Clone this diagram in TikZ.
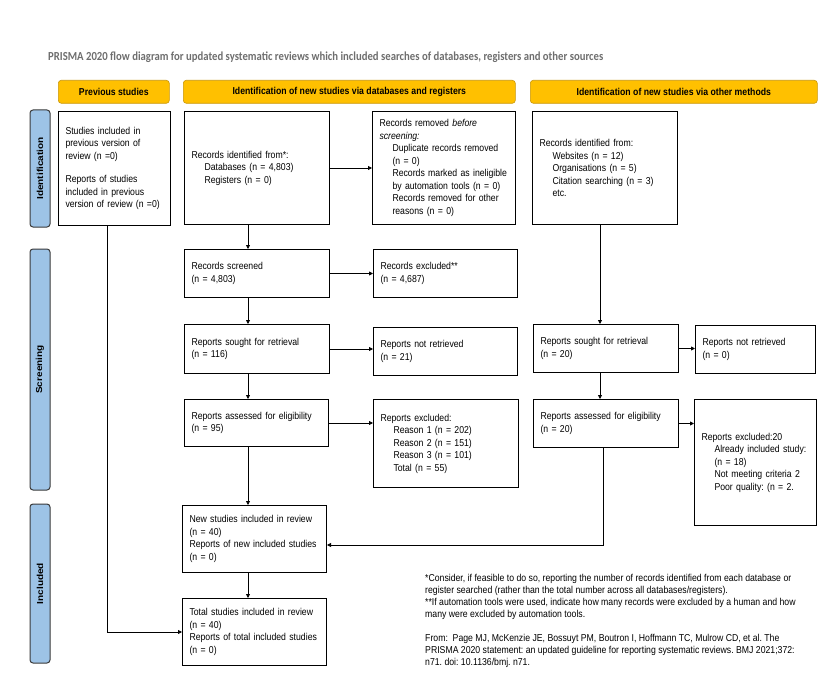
\documentclass[tikz,border=0pt]{standalone}
\usepackage{fontspec}
\setmainfont{Liberation Sans}
\newfontfamily\boxfont{Liberation Sans}[FakeStretch=0.87]
\newfontfamily\titlefont{Carlito}[FakeStretch=0.87]
\newfontfamily\sidefont{Liberation Sans}[FakeStretch=1.15]
\usetikzlibrary{arrows.meta}
\frenchspacing

\definecolor{hdryellow}{HTML}{FFC000}
\definecolor{hdredge}{HTML}{C8960A}
\definecolor{sideblue}{HTML}{9DC3E6}
\definecolor{sideedge}{HTML}{3A3A3A}
\definecolor{titlegray}{HTML}{6E6E6E}

\newcommand{\ind}{\hspace*{13pt}}

\tikzset{
  box/.style={draw, line width=1pt, anchor=north west, inner xsep=7pt, inner ysep=1pt,
    align=left, text width=#1, font=\boxfont\fontsize{10}{12.5}\selectfont},
  header/.style={draw=hdredge, fill=hdryellow, line width=0.6pt, rounded corners=3pt,
    anchor=north west, inner sep=0pt, font=\boxfont\bfseries\fontsize{10}{12}\selectfont},
  phase/.style={draw=sideedge, fill=sideblue, line width=1pt, rounded corners=3pt,
    rotate=90, inner sep=0pt, minimum height=20, font=\sidefont\bfseries\fontsize{8.7}{10}\selectfont},
  arr/.style={-{Triangle[length=4pt,width=4pt]}, line width=0.8pt},
  link/.style={line width=0.8pt}
}

\begin{document}
\begin{tikzpicture}[x=1pt, y=-1pt]
    \useasboundingbox (0,0) rectangle (836,682);

    % Title
    \node[anchor=west, inner sep=0pt, text=titlegray, font=\titlefont\bfseries\fontsize{12.3}{14}\selectfont] (title) at (48,57)
        {PRISMA 2020 flow diagram for updated systematic reviews which included searches of databases, registers and other sources};

    % Column headers
    \node[header, minimum width=111, minimum height=23] (hprev) at (58,80) {Previous studies};
    \node[header, minimum width=332, minimum height=23] (hdb) at (183,80) {Identification of new studies via databases and registers};
    \node[header, minimum width=287, minimum height=23] (hoth) at (530,80) {Identification of new studies via other methods};

    % Phase bars
    \node[phase, minimum width=117] (pident) at (40,168.5) {Identification};
    \node[phase, minimum width=241] (pscreen) at (40,369.5) {Screening};
    \node[phase, minimum width=159] (pincl) at (40,583.5) {Included};

    % Previous studies
    \node[box=98, minimum width=112, minimum height=114] (prev) at (58,111)
        {Studies included in\\ previous version of\\ review (n =0)\\[11pt]
         Reports of studies\\ included in previous\\ version of review (n =0)};

    % Databases and registers
    \node[box=131, minimum width=145, minimum height=113] (dbid) at (184,111)
        {Records identified from*:\\ \ind Databases (n = 4,803)\\ \ind Registers (n = 0)};
    \node[box=129, minimum width=143, minimum height=113] (removed) at (372,111)
        {Records removed \textit{before}\\ \textit{screening:}\\
         \ind Duplicate records removed\\ \ind (n = 0)\\
         \ind Records marked as ineligible\\ \ind by automation tools (n = 0)\\
         \ind Records removed for other\\ \ind reasons (n = 0)};
    \node[box=131, minimum width=145, minimum height=48] (screened) at (184,249)
        {Records screened\\ (n = 4,803)};
    \node[box=130, minimum width=144, minimum height=48] (excluded) at (373,249)
        {Records excluded**\\ (n = 4,687)};
    \node[box=131, minimum width=145, minimum height=49] (sought) at (184,324)
        {Reports sought for retrieval\\ (n = 116)};
    \node[box=130, minimum width=144, minimum height=48] (notret) at (373,327)
        {Reports not retrieved\\ (n = 21)};
    \node[box=130, minimum width=144, minimum height=47] (assessed) at (184,399)
        {Reports assessed for eligibility\\ (n = 95)};
    \node[box=131, minimum width=145, minimum height=88] (repexcl) at (373,399)
        {Reports excluded:\\ \ind Reason 1 (n = 202)\\ \ind Reason 2 (n = 151)\\
         \ind Reason 3 (n = 101)\\ \ind Total (n = 55)};
    \node[box=130, minimum width=144, minimum height=67] (newinc) at (182,505)
        {New studies included in review\\ (n = 40)\\ Reports of new included studies\\ (n = 0)};
    \node[box=130, minimum width=144, minimum height=67] (total) at (182,598)
        {Total studies included in review\\ (n = 40)\\ Reports of total included studies\\ (n = 0)};

    % Other methods
    \node[box=131, minimum width=145, minimum height=113] (othid) at (532,111)
        {Records identified from:\\ \ind Websites (n = 12)\\ \ind Organisations (n = 5)\\
         \ind Citation searching (n = 3)\\ \ind etc.};
    \node[box=131, minimum width=145, minimum height=48] (othsought) at (533,324)
        {Reports sought for retrieval\\ (n = 20)};
    \node[box=106, minimum width=120, minimum height=48] (othnotret) at (695,325)
        {Reports not retrieved\\ (n = 0)};
    \node[box=131, minimum width=145, minimum height=48] (othassessed) at (533,399)
        {Reports assessed for eligibility\\ (n = 20)};
    \node[box=108, minimum width=122, minimum height=126] (othexcl) at (694,399)
        {Reports excluded:20\\ \ind Already included study:\\ \ind (n = 18)\\
         \ind Not meeting criteria 2\\ \ind Poor quality: (n = 2.};

    % Footnotes
    \node[anchor=north west, inner sep=0pt, align=left, font=\boxfont\fontsize{10}{12}\selectfont] (notes) at (425,574)
        {*Consider, if feasible to do so, reporting the number of records identified from each database or\\
         register searched (rather than the total number across all databases/registers).\\
         **If automation tools were used, indicate how many records were excluded by a human and how\\
         many were excluded by automation tools.\\[12pt]
         From:\ \ Page MJ, McKenzie JE, Bossuyt PM, Boutron I, Hoffmann TC, Mulrow CD, et al. The\\
         PRISMA 2020 statement: an updated guideline for reporting systematic reviews. BMJ 2021;372:\\
         n71. doi: 10.1136/bmj. n71.};

    % Connectors
    \coordinate (ax) at (248,0);
    \coordinate (bx) at (600,0);
    \coordinate (px) at (107,0);
    \coordinate (jn) at (603,545);
    \draw[arr] (dbid.south -| ax) -- (screened.north -| ax);
    \draw[arr] (dbid.east) -- (removed.west);
    \draw[arr] (screened.east) -- (excluded.west);
    \draw[arr] (screened.south -| ax) -- (sought.north -| ax);
    \draw[arr] (sought.east) -- (sought.east -| notret.west);
    \draw[arr] (sought.south -| ax) -- (assessed.north -| ax);
    \draw[arr] (assessed.east) -- (assessed.east -| repexcl.west);
    \draw[arr] (assessed.south -| ax) -- (newinc.north -| ax);
    \draw[arr] (newinc.south -| ax) -- (total.north -| ax);
    \draw[arr] (othid.south -| bx) -- (othsought.north -| bx);
    \draw[arr] (othsought.east) -- (othsought.east -| othnotret.west);
    \draw[arr] (othsought.south -| bx) -- (othassessed.north -| bx);
    \draw[arr] (othassessed.east) -- (othassessed.east -| othexcl.west);
    \draw[arr] (othassessed.south -| jn) -- (jn) -- (jn -| newinc.east);
    \draw[arr] (prev.south -| px) |- (total.west);
\end{tikzpicture}
\end{document}
